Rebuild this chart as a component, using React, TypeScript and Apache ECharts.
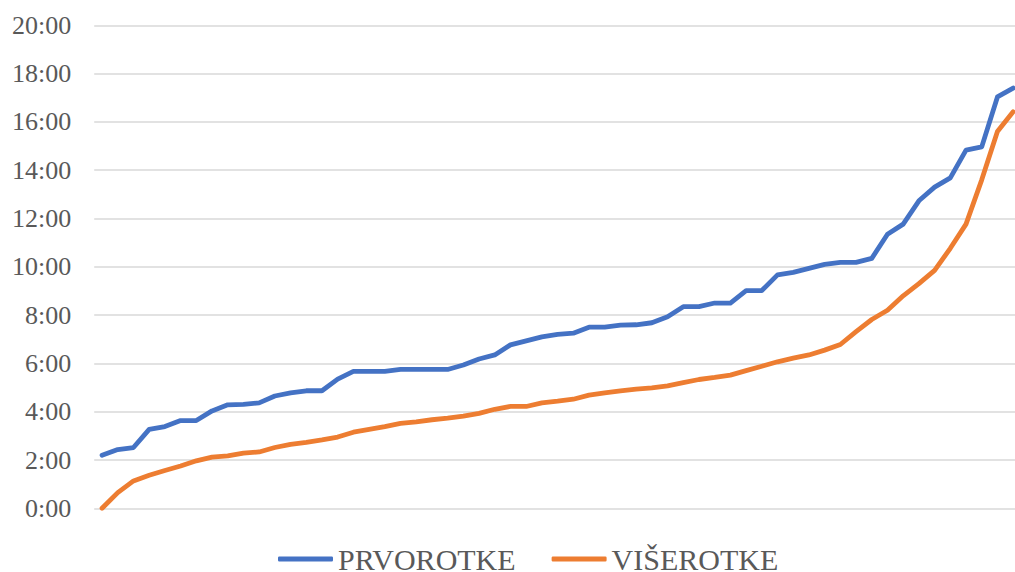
import React, { useEffect, useRef } from "react";
import * as echarts from "echarts";

// minutes since 0:00
const categories: string[] = Array.from({ length: 59 }, (_, i) => String(i + 1));

const prvorotke: number[] = [
  132, 146, 151, 196, 203, 218, 218, 242, 257, 258,
  262, 279, 287, 292, 292, 321, 340, 340, 340, 345,
  345, 345, 345, 356, 371, 381, 406, 416, 426, 432,
  435, 450, 450, 455, 456, 461, 476, 501, 501, 510,
  510, 541, 541, 580, 586, 596, 606, 611, 611, 621,
  681, 706, 764, 798, 821, 890, 898, 1022, 1044,
];

const viserotke: number[] = [
  0, 39, 68, 82, 94, 105, 118, 127, 130, 137,
  140, 151, 159, 164, 170, 177, 189, 196, 203, 211,
  215, 220, 224, 229, 236, 246, 253, 253, 262, 266,
  271, 281, 287, 292, 296, 299, 304, 312, 320, 325,
  331, 342, 353, 364, 373, 381, 393, 407, 439, 469,
  492, 528, 558, 591, 646, 706, 816, 936, 985,
];

const seriesNames = ["PRVOROTKE", "VIŠEROTKE"];
const colors = ["#4472C4", "#ED7D31"];

export default function App() {
  const ref = useRef<HTMLDivElement>(null);
  useEffect(() => {
    if (!ref.current) return;
    const chart = echarts.init(ref.current, null, { renderer: "svg" });
    const font = "'Liberation Serif', 'Times New Roman', serif";
    chart.setOption({
      animation: false,
      color: colors,
      grid: { left: 94.2, right: 0, top: 25.3, bottom: 63.7, containLabel: false },
      legend: {
        left: 278,
        top: 544,
        padding: 0,
        icon: "roundRect",
        itemWidth: 55,
        itemHeight: 5,
        itemGap: 36,
        textStyle: {
          fontFamily: font,
          fontSize: 30,
          lineHeight: 28,
          color: "#595959",
        },
        data: seriesNames,
      },
      xAxis: {
        type: "category",
        data: categories,
        boundaryGap: true,
        axisLine: { show: false },
        axisTick: { show: false },
        axisLabel: { show: false },
        splitLine: { show: false },
      },
      yAxis: {
        type: "value",
        min: 0,
        max: 1200,
        interval: 120,
        axisLine: { show: false },
        axisTick: { show: false },
        axisLabel: {
          margin: 23,
          fontFamily: font,
          fontSize: 26,
          color: "#595959",
          formatter: (v: number) => `${Math.round(v / 60)}:00`,
        },
        splitLine: { lineStyle: { color: "#D9D9D9", width: 1.5 } },
      },
      series: [
        {
          name: seriesNames[0],
          type: "line",
          data: prvorotke,
          showSymbol: false,
          symbol: "none",
          lineStyle: { width: 4.8, color: colors[0], cap: "round", join: "round" },
        },
        {
          name: seriesNames[1],
          type: "line",
          data: viserotke,
          showSymbol: false,
          symbol: "none",
          lineStyle: { width: 4.8, color: colors[1], cap: "round", join: "round" },
        },
      ],
    });
    return () => chart.dispose();
  }, []);
  return (
    <div
      style={{ position: "absolute", left: 0, top: 0, width: 1015, height: 572, overflow: "hidden", background: "#fff" }}
    >
      <div ref={ref} style={{ width: 1021, height: 572 }} />
    </div>
  );
}
